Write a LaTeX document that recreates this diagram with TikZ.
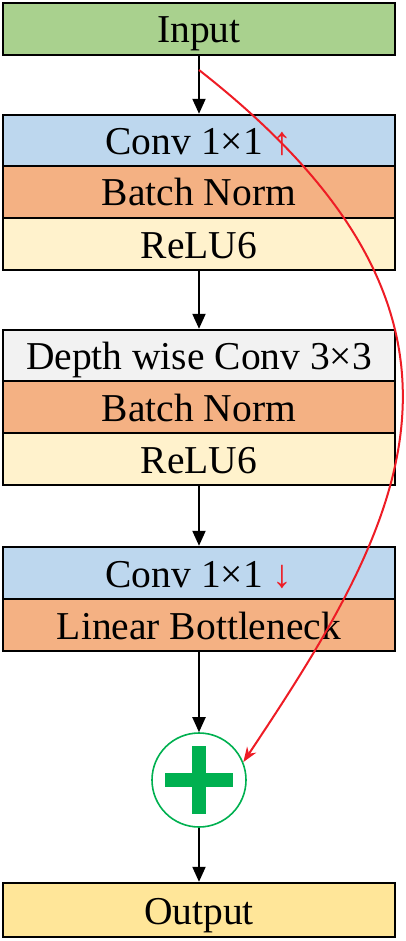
\documentclass[tikz,border=0pt]{standalone}
\usepackage{fontspec}
\setmainfont{Liberation Serif}
\usetikzlibrary{arrows.meta,calc}
\definecolor{cin}{HTML}{A9D18E}
\definecolor{cconv}{HTML}{BDD7EE}
\definecolor{cbn}{HTML}{F4B183}
\definecolor{crelu}{HTML}{FFF2CC}
\definecolor{cdw}{HTML}{F2F2F2}
\definecolor{cout}{HTML}{FFE699}
\definecolor{cgreen}{HTML}{00B050}
\definecolor{cred}{HTML}{EE1C25}
\tikzset{
  blk/.style={draw=black, line width=2.4pt, minimum width=392pt, inner sep=0pt,
    text height=30pt, text depth=2pt,
    font=\fontsize{39.5}{41}\selectfont, text=black},
  flow/.style={line width=2pt, -{Triangle[length=15pt,width=13pt]}},
  skip/.style={draw=cred, line width=2pt, -{Stealth[length=15pt,width=11pt]}}
}
\begin{document}
\begin{tikzpicture}[x=1pt,y=1pt]
\useasboundingbox (0,0) rectangle (405,-941);
\node[blk, fill=cin, minimum height=52pt] (in) at (199,-29) {Input};
\node[blk, fill=cconv, minimum height=51pt] (c1) at (199,-140.5) {Conv 1×1 \textcolor{cred}{↑}};
\node[blk, fill=cbn, minimum height=52pt] (bn1) at (199,-192) {Batch Norm};
\node[blk, fill=crelu, minimum height=52pt] (r1) at (199,-244) {ReLU6};
\node[blk, fill=cdw, minimum height=51pt] (dw) at (199,-355.5) {Depth wise Conv 3×3};
\node[blk, fill=cbn, minimum height=52pt] (bn2) at (199,-407) {Batch Norm};
\node[blk, fill=crelu, minimum height=52pt] (r2) at (199,-459) {ReLU6};
\node[blk, fill=cconv, minimum height=52pt] (c3) at (199,-573) {Conv 1×1 \textcolor{cred}{↓}};
\node[blk, fill=cbn, minimum height=52pt] (lb) at (199,-625) {Linear Bottleneck};
\node[circle, draw=cgreen, line width=1.6pt, minimum size=94pt, inner sep=0pt, fill=white] (plus) at (199,-780) {};
\fill[cgreen] ($(plus.center)+(-34,-7)$) rectangle ($(plus.center)+(34,7)$);
\fill[cgreen] ($(plus.center)+(-7,-34)$) rectangle ($(plus.center)+(7,34)$);
\node[blk, fill=cout, minimum height=54pt] (out) at (199,-910) {Output};
\draw[flow] (in) -- (c1);
\draw[flow] (r1) -- (dw);
\draw[flow] (r2) -- (c3);
\draw[flow] (lb) -- (plus);
\draw[flow] (plus) -- (out);
\coordinate (s) at (199,-70);
\draw[skip] (s) .. controls (518,-320) and (405,-520) .. (plus.22);
\end{tikzpicture}
\end{document}
